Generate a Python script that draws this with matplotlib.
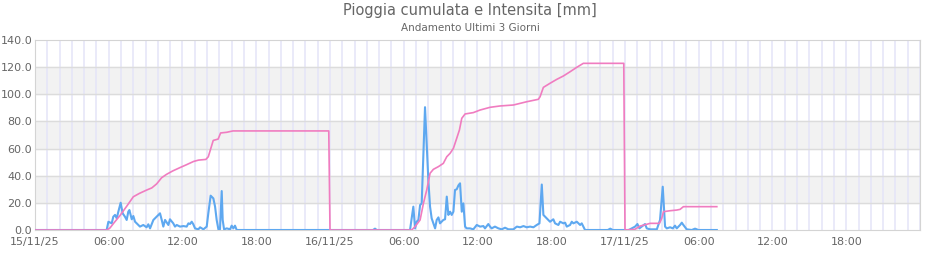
import matplotlib
matplotlib.use("Agg")
import matplotlib.pyplot as plt
import matplotlib.dates as mdates
from matplotlib.ticker import FixedLocator
import pandas as pd

# ore dall'inizio (15/11/25 00:00) e valori
pioggia_ore = [0, 5.83, 6.1, 6.4, 6.9, 7.5, 8.0, 8.5, 9.1, 9.5, 9.9, 10.3, 10.7, 11.2,
               11.8, 12.3, 12.9, 13.3, 13.9, 14.1, 14.5, 14.9, 15.1, 15.6, 16.1, 23.9,
               24.0, 30.65, 30.92, 31.33, 31.6, 31.87, 32.14, 32.41, 32.82, 33.22, 33.5,
               33.77, 34.04, 34.31, 34.53, 34.72, 34.99, 35.66, 36.21, 37.02, 37.84,
               38.92, 40.0, 40.95, 41.09, 41.36, 41.9, 42.45, 42.99, 43.53, 44.08, 44.61,
               47.9, 48.0, 48.8, 49.23, 49.77, 50.04, 50.8, 50.99, 51.13, 51.67, 52.21,
               52.48, 52.75, 55.47]
pioggia_mm = [0, 0, 1.5, 5, 10.5, 18, 24.5, 27, 29.5, 31, 34, 38.5, 41, 43.5,
              46, 48, 50.5, 51.5, 52, 54, 66, 67, 71.5, 72, 73, 73,
              0, 0, 2.5, 7.4, 19.6, 29.5, 41.8, 44.7, 46.7, 49.1, 54,
              56.5, 60.2, 67.6, 73.7, 82.3, 85.5, 86.5, 88.4, 90.4, 91.4,
              92.1, 94.5, 96.3, 98.2, 105.1, 108.1, 111.0, 113.5, 116.6, 119.9, 122.8,
              122.8, 0, 0.5, 2.9, 4.2, 4.9, 4.9, 8.6, 13.5, 14.2, 14.7,
              15.2, 17.2, 17.2]

intensita_ore = [0, 5.83, 5.97, 6.24, 6.37, 6.51, 6.65, 6.78, 6.97, 7.13, 7.32, 7.46, 7.59,
                 7.68, 7.87, 8.0, 8.14, 8.27, 8.54, 8.81, 9.08, 9.22, 9.36, 9.63, 9.9,
                 10.17, 10.31, 10.44, 10.58, 10.85, 10.98, 11.25, 11.39, 11.53, 11.8,
                 12.07, 12.34, 12.48, 12.61, 12.75, 12.88, 13.02, 13.29, 13.43, 13.7,
                 13.97, 14.1, 14.29, 14.51, 14.65, 14.78, 14.92, 15.05, 15.19, 15.27,
                 15.38, 15.6, 15.87, 16.0, 16.14, 16.27, 16.41,
                 27.5, 27.66, 27.8, 30.51, 30.78, 30.92, 31.05, 31.19, 31.33, 31.46,
                 31.73, 32.0, 32.14, 32.27, 32.55, 32.68, 32.82, 32.95, 33.22, 33.36,
                 33.5, 33.63, 33.77, 33.9, 34.04, 34.17, 34.31, 34.45, 34.58, 34.72,
                 34.85, 34.99, 35.12, 35.39, 35.66, 35.94, 36.21, 36.48, 36.61, 36.88,
                 37.02, 37.15, 37.42, 37.7, 37.97, 38.24, 38.51, 38.92, 39.2, 39.47,
                 39.74, 40.0, 40.28, 40.55, 40.82, 41.04, 41.23, 41.36, 41.63, 41.9,
                 42.17, 42.31, 42.58, 42.72, 42.99, 43.13, 43.26, 43.53, 43.67, 43.8,
                 44.08, 44.35, 44.48, 44.61, 44.75,
                 46.6, 46.8, 47.0, 48.3, 48.55, 48.82, 49.01, 49.17, 49.36, 49.63,
                 49.77, 50.04, 50.59, 50.85, 51.07, 51.26, 51.4, 51.67, 51.89, 52.07,
                 52.21, 52.48, 52.62, 52.75, 53.02, 53.43, 53.7, 53.97, 55.47]
intensita_mm = [0, 0, 6.1, 4.9, 9.8, 11.1, 8.6, 13.5, 20.1, 12.3, 9.8, 7.4, 13.5,
                14.7, 7.9, 10.3, 6.1, 4.9, 2.5, 3.7, 2.0, 4.2, 1.2, 7.4, 9.8,
                12.3, 7.4, 2.5, 7.4, 3.7, 7.9, 4.9, 2.5, 3.7, 2.5,
                2.9, 2.5, 4.9, 4.4, 6.1, 4.2, 1.2, 0.5, 2.0, 0.5,
                2.5, 12.3, 25.3, 23.3, 17.2, 7.4, 0.5, 0.5, 28.7, 7.4,
                0.5, 1.2, 0.5, 3.2, 1.2, 3.2, 0,
                0, 1.0, 0, 0, 17.2, 1.2, 6.1, 7.4, 18.4, 19.6,
                90.5, 36.8, 17.2, 8.6, 1.2, 7.4, 9.3, 4.9, 7.4, 7.9,
                24.6, 11.1, 13.5, 11.1, 13.5, 29.5, 30.0, 32.9, 34.4, 13.5,
                19.6, 2.5, 1.2, 1.2, 0.5, 3.7, 2.5, 2.9, 1.2, 4.4,
                2.5, 1.2, 2.5, 1.2, 0.5, 1.7, 0.5, 0.5, 2.5, 2.0,
                2.9, 2.0, 2.5, 2.0, 3.7, 4.9, 33.5, 11.1, 8.6, 6.1,
                7.9, 4.9, 3.7, 6.1, 4.9, 5.4, 2.5, 3.7, 6.1, 4.9,
                6.1, 3.7, 4.9, 2.5, 0,
                0, 1.0, 0, 0, 1.2, 2.5, 4.4, 1.2, 2.5, 4.4,
                1.2, 0.5, 0.5, 7.4, 31.9, 2.5, 1.2, 2.0, 1.2, 3.2,
                1.2, 3.7, 5.4, 3.7, 0.5, 0, 1.0, 0, 0]

inizio = pd.Timestamp("2025-11-15 00:00")
fine = pd.Timestamp("2025-11-18 00:00")

t_pioggia = inizio + pd.to_timedelta(pioggia_ore, unit="h")
t_intensita = inizio + pd.to_timedelta(intensita_ore, unit="h")

fig = plt.figure(figsize=(9.4, 2.6), dpi=100)
ax = fig.add_axes([35/940, 30/260, 885/940, 190/260])

# bande alternate e griglia
for y0 in [20, 60, 100]:
    ax.axhspan(y0, y0+20, color="#f2f2f2", zorder=0)
for y0 in range(20, 140, 20):
    ax.axhline(y0, color="#dcdcdc", lw=1.0, zorder=1)

ax.plot(t_intensita, intensita_mm, color="#5ea8f0", lw=1.5, zorder=3)
ax.plot(t_pioggia, pioggia_mm, color="#f07cc0", lw=1.2, zorder=4)

ax.set_xlim(inizio, fine)
ax.set_ylim(0, 140)
ax.set_yticks(range(0, 141, 20))
ax.set_yticklabels(["%.1f" % v for v in range(0, 141, 20)])

major = pd.date_range(inizio, periods=12, freq="6h")
ax.xaxis.set_major_locator(FixedLocator(mdates.date2num(major)))
ax.set_xticklabels([d.strftime("%d/%m/%y") if d.hour == 0 else d.strftime("%H:%M") for d in major])
ax.xaxis.set_minor_locator(mdates.HourLocator())
ax.grid(True, axis="x", which="both", color="#e4e4f8", lw=1.1, zorder=1)
ax.set_axisbelow(True)

ax.tick_params(axis="both", which="both", length=0, labelsize=8, labelcolor="#666666")
ax.tick_params(axis="x", pad=5)
ax.tick_params(axis="y", pad=2)
for s in ax.spines.values():
    s.set_color("#d4d4d4")

fig.text(0.5, 1 - 11/260, "Pioggia cumulata e Intensita [mm]", ha="center", va="center",
         fontsize=10.5, color="#666666")
fig.text(0.5, 1 - 28/260, "Andamento Ultimi 3 Giorni", ha="center", va="center",
         fontsize=7.5, color="#666666")

plt.savefig("out.png", dpi=100)
